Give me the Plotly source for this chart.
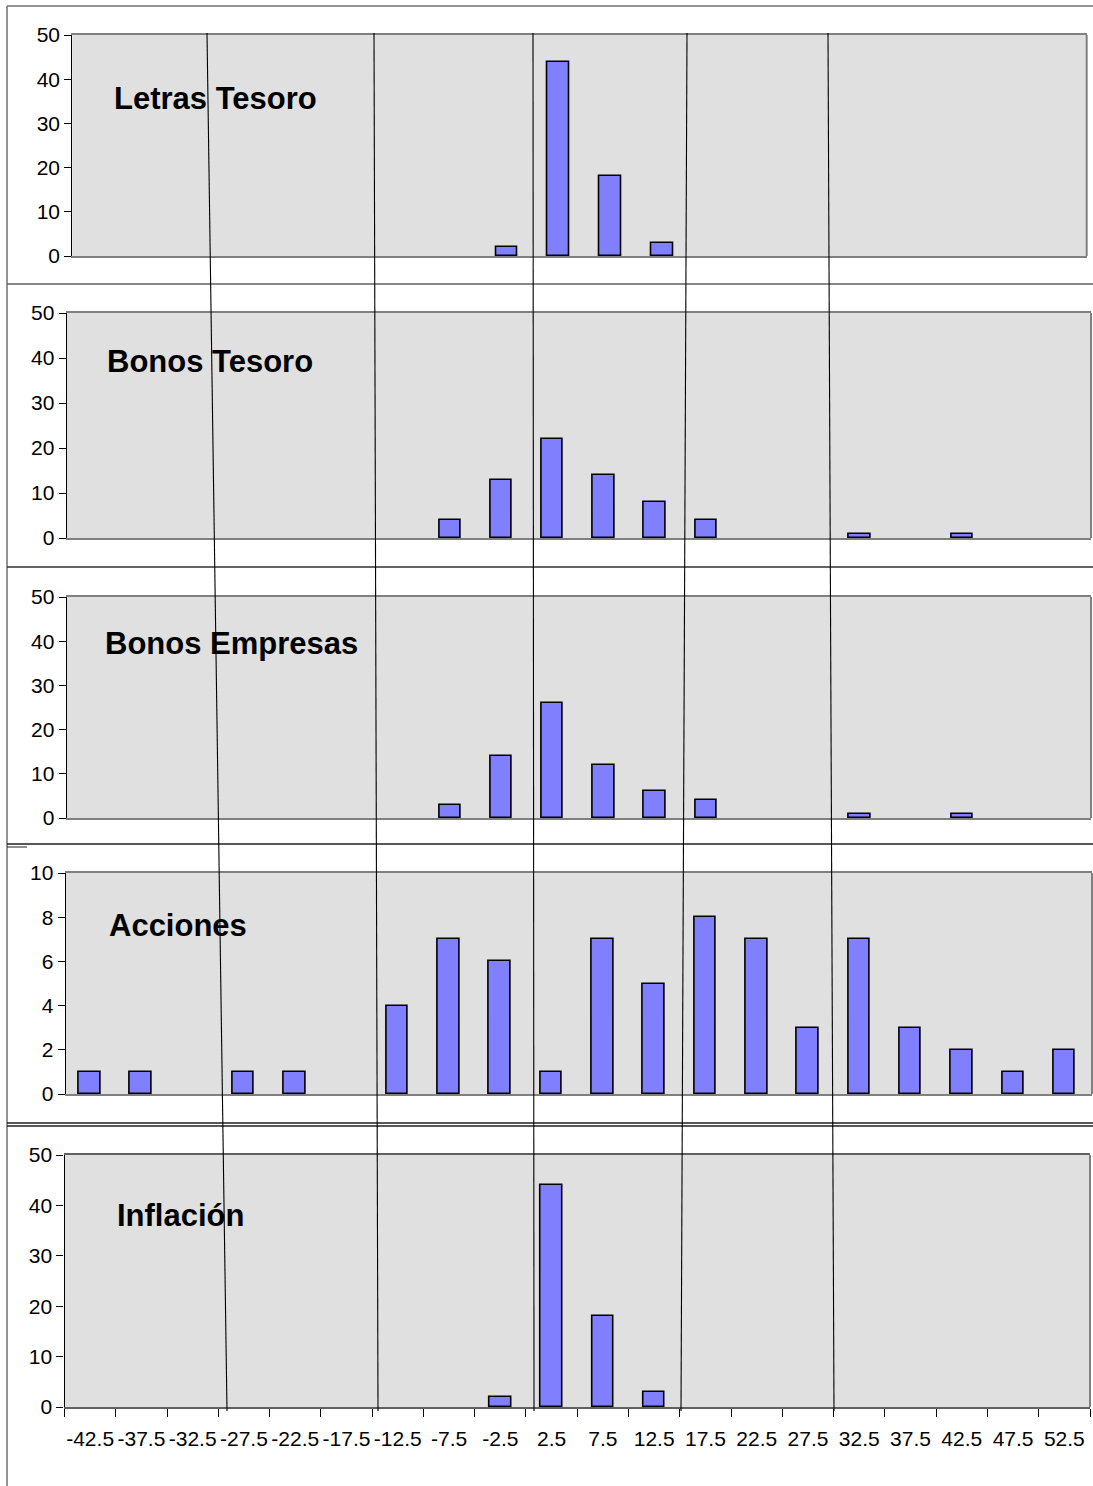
import plotly.graph_objects as go

# ---------------- data ----------------
bin_labels = ["-42.5", "-37.5", "-32.5", "-27.5", "-22.5", "-17.5", "-12.5", "-7.5", "-2.5", "2.5",
              "7.5", "12.5", "17.5", "22.5", "27.5", "32.5", "37.5", "42.5", "47.5", "52.5"]
bin_centers = [-42.5, -37.5, -32.5, -27.5, -22.5, -17.5, -12.5, -7.5, -2.5, 2.5,
               7.5, 12.5, 17.5, 22.5, 27.5, 32.5, 37.5, 42.5, 47.5, 52.5]

letras_tesoro = [0, 0, 0, 0, 0, 0, 0, 0, 2, 44, 18, 3, 0, 0, 0, 0, 0, 0, 0, 0]
bonos_tesoro = [0, 0, 0, 0, 0, 0, 0, 4, 13, 22, 14, 8, 4, 0, 0, 1, 0, 1, 0, 0]
bonos_empresas = [0, 0, 0, 0, 0, 0, 0, 3, 14, 26, 12, 6, 4, 0, 0, 1, 0, 1, 0, 0]
acciones = [1, 1, 0, 1, 1, 0, 4, 7, 6, 1, 7, 5, 8, 7, 3, 7, 3, 2, 1, 2]
inflacion = [0, 0, 0, 0, 0, 0, 0, 0, 2, 44, 18, 3, 0, 0, 0, 0, 0, 0, 0, 0]

panel_names = ["Letras Tesoro", "Bonos Tesoro", "Bonos Empresas", "Acciones", "Inflación"]
panel_series = [letras_tesoro, bonos_tesoro, bonos_empresas, acciones, inflacion]
panel_ymax = [50, 50, 50, 10, 50]
panel_ydtick = [10, 10, 10, 2, 10]

# ---------------- layout geometry (pixels) ----------------
W, H = 1093, 1486


def px(x):
    return x / W


def py(y):
    return 1 - y / H


# plot-area boxes: (left, right, top, bottom) in pixels
boxes = [
    (72.3, 1086.7, 35, 256),
    (66.7, 1091.0, 313, 538),
    (66.7, 1091.0, 597, 818),
    (65.7, 1092.0, 873, 1094),
    (64.5, 1090.0, 1155, 1407),
]
xranges = [
    [-44.43, 53.48],
    [-44.93, 55.1],
    [-44.93, 55.1],
    [-44.82, 55.2],
    [-45.0, 55.0],
]
label_pos = [(112, 98), (105, 362), (103, 643), (107, 925), (115, 1215)]

FONT = "Liberation Sans, Arial, sans-serif"
BAR = "#8080FF"
BG = "#E0E0E0"
GRAY = "#808080"

fig = go.Figure()
layout = dict(
    width=W, height=H,
    margin=dict(l=0, r=0, t=0, b=0, pad=0, autoexpand=False),
    paper_bgcolor="white", plot_bgcolor=BG, showlegend=False,
    font=dict(family=FONT, size=20, color="black"),
    bargap=0,
)
shapes = []
annotations = []

for i, (name, vals) in enumerate(zip(panel_names, panel_series)):
    k = i + 1
    xa = "x" if k == 1 else f"x{k}"
    ya = "y" if k == 1 else f"y{k}"
    ys = [v if v != 0 else None for v in vals]
    fig.add_trace(go.Bar(
        x=bin_centers, y=ys, width=2.1, xaxis=xa, yaxis=ya,
        marker=dict(color=BAR, line=dict(color="black", width=1.6)),
        hoverinfo="x+y",
    ))
    l, r, t, b = boxes[i]
    xkey = "xaxis" if k == 1 else f"xaxis{k}"
    ykey = "yaxis" if k == 1 else f"yaxis{k}"
    xcfg = dict(
        domain=[px(l), px(r)], range=xranges[i], anchor=ya,
        showgrid=False, zeroline=False, showline=True, linecolor=GRAY,
        linewidth=2, mirror=True, fixedrange=True, automargin=False,
    )
    if k == 5:
        xcfg.update(
            tickmode="array", tickvals=bin_centers, ticktext=bin_labels,
            ticks="outside", ticklen=12, tickcolor="rgba(0,0,0,0)",
            tickfont=dict(family=FONT, size=21, color="black"),
            minor=dict(tickmode="array",
                       tickvals=[c - 2.5 for c in bin_centers] + [bin_centers[-1] + 2.5],
                       ticks="outside", ticklen=8, tickcolor="black", tickwidth=1),
            linecolor="#606060",
        )
    else:
        xcfg.update(showticklabels=False, ticks="")
    layout[xkey] = xcfg
    layout[ykey] = dict(
        domain=[py(b), py(t)], range=[0, panel_ymax[i]], anchor=xa,
        dtick=panel_ydtick[i], tick0=0, showgrid=False, zeroline=False,
        showline=True, linecolor="black", linewidth=1.2,
        ticks="outside", ticklen=7, tickcolor="black", tickwidth=1,
        tickfont=dict(family=FONT, size=21, color="black"), fixedrange=True,
        automargin=False,
    )
    # right border of plot area (gray)
    shapes.append(dict(type="line", xref="paper", yref="paper",
                       x0=px(r), x1=px(r), y0=py(b), y1=py(t),
                       line=dict(color=GRAY, width=2)))
    lx, ly = label_pos[i]
    annotations.append(dict(
        text=f"<b>{name}</b>", x=px(lx), y=py(ly), xref="paper", yref="paper",
        xanchor="left", yanchor="middle", showarrow=False,
        font=dict(family=FONT, size=31, color="black"),
    ))

# outer frames of the stacked panels
shapes.append(dict(type="line", xref="paper", yref="paper",
                   x0=px(7), x1=px(7), y0=py(6), y1=py(1486),
                   line=dict(color="#707070", width=1.5)))
for yy, col in [(6, "#707070"), (284, "#606060"), (567, "#303030"), (844, "#202020"),
                (1123, "#202020"), (1126, "#202020")]:
    shapes.append(dict(type="line", xref="paper", yref="paper",
                       x0=px(7), x1=px(1093), y0=py(yy), y1=py(yy),
                       line=dict(color=col, width=1.3)))
shapes.append(dict(type="line", xref="paper", yref="paper",
                   x0=px(7), x1=px(27), y0=py(847), y1=py(847),
                   line=dict(color="#202020", width=1)))

# hand-drawn slanted separator lines
for (x0, x1) in [(207, 227), (374, 378), (533, 534), (687, 681), (828, 834)]:
    shapes.append(dict(type="line", xref="paper", yref="paper",
                       x0=px(x0), x1=px(x1), y0=py(33), y1=py(1411),
                       line=dict(color="black", width=1.1)))

layout["shapes"] = shapes
layout["annotations"] = annotations
fig.update_layout(**layout)

fix_css = (
    "document.documentElement.style.margin='0';"
    "document.documentElement.style.padding='0';"
    "document.body.style.margin='0';"
    "document.body.style.padding='0';"
    "document.body.style.overflow='hidden';"
    "var gd=document.getElementById('{plot_id}');"
    "gd.style.position='fixed';gd.style.top='0px';gd.style.left='0px';"
)
fig.write_html("out.html", post_script=fix_css, config={"displayModeBar": False})
